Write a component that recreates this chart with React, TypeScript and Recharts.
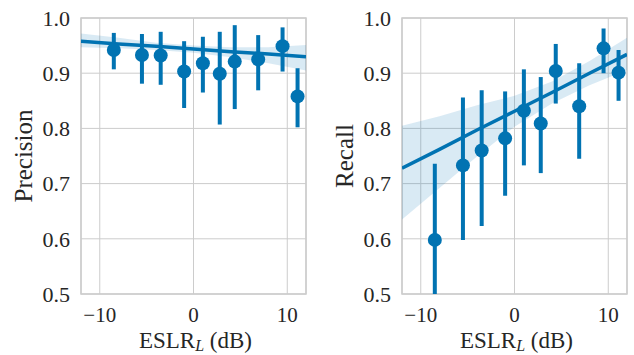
import React from 'react';
import { ComposedChart, XAxis, YAxis, CartesianGrid, Line, Area, Scatter, ErrorBar, ReferenceArea } from 'recharts';

const bins = [-8.5, -5.5, -3.5, -1.0, 1.0, 2.8, 4.4, 6.9, 9.5, 11.1];

const precision = [0.942, 0.933, 0.932, 0.903, 0.918, 0.899, 0.921, 0.925, 0.949, 0.858];
const precisionLo = [0.907, 0.881, 0.879, 0.837, 0.865, 0.807, 0.835, 0.869, 0.903, 0.802];
const precisionHi = [0.973, 0.971, 0.975, 0.958, 0.966, 0.975, 0.987, 0.969, 0.983, 0.909];

const recall = [0.598, 0.733, 0.760, 0.782, 0.832, 0.809, 0.904, 0.840, 0.945, 0.901];
const recallLo = [0.5, 0.598, 0.623, 0.678, 0.733, 0.719, 0.845, 0.745, 0.900, 0.850];
const recallHi = [0.736, 0.856, 0.869, 0.867, 0.907, 0.893, 0.953, 0.918, 0.981, 0.942];

const fitX = [-12, -8, -4, 0, 4, 8, 12];
const precisionFit = [0.958, 0.953, 0.949, 0.944, 0.939, 0.935, 0.930];
const precisionBandLo = [0.947, 0.945, 0.942, 0.937, 0.929, 0.918, 0.905];
const precisionBandHi = [0.972, 0.964, 0.955, 0.950, 0.947, 0.947, 0.951];
const recallFit = [0.728, 0.762, 0.797, 0.831, 0.865, 0.900, 0.934];
const recallBandLo = [0.635, 0.692, 0.749, 0.803, 0.845, 0.878, 0.906];
const recallBandHi = [0.805, 0.822, 0.842, 0.859, 0.885, 0.922, 0.964];

const xTicks = [-10, 0, 10];
const yTicks = [0.5, 0.6, 0.7, 0.8, 0.9, 1.0];

const BLUE = '#0173B2';
const GRID = '#cccccc';
const TEXT = '#262626';
const FONT = "'Liberation Serif', 'DejaVu Serif', serif";
const fontStyle = { fontFamily: FONT };

function makePoints(ys: number[], lo: number[], hi: number[]) {
  return bins.map((x, i) => ({ x, y: ys[i], err: [ys[i] - lo[i], hi[i] - ys[i]] }));
}
function makeBand(fit: number[], lo: number[], hi: number[]) {
  return fitX.map((x, i) => ({ x, fit: fit[i], band: [lo[i], hi[i]] }));
}

const fmtX = (v: number) => (v < 0 ? '\u2212' + Math.abs(v) : String(v));
const fmtY = (v: number) => v.toFixed(1);

const XTick = (p: any) => (
  <text x={p.x} y={p.y} dy="0.71em" textAnchor="middle" fill={TEXT} fontSize={21} style={fontStyle}>
    {fmtX(p.payload.value)}
  </text>
);
const YTick = (p: any) => (
  <text x={p.x} y={p.y} dy="0.355em" textAnchor="end" fill={TEXT} fontSize={22} style={fontStyle}>
    {fmtY(p.payload.value)}
  </text>
);

function Panel(props: {
  yLabel: string;
  points: any[];
  band: any[];
  yAxisWidth: number;
  marginRight: number;
}) {
  const { yLabel, points, band, yAxisWidth, marginRight } = props;
  return (
    <ComposedChart
      width={317}
      height={355}
      margin={{ top: 18, right: marginRight, bottom: 0, left: 0 }}
    >
      <CartesianGrid stroke={GRID} strokeWidth={1} />
      <XAxis
        dataKey="x"
        type="number"
        domain={[-12, 12]}
        ticks={xTicks}
        allowDataOverflow
        tickLine={false}
        axisLine={false}
        tickSize={0}
        tickMargin={13}
        height={61}
        tick={<XTick />}
        label={(p: any) => {
          const vb = p.viewBox;
          return (
            <text
              x={vb.x + vb.width / 2 + 2}
              y={vb.y + 53.5}
              textAnchor="middle"
              fill={TEXT}
              fontSize={23}
              style={fontStyle}
            >
              <tspan>ESLR</tspan>
              <tspan fontStyle="italic" fontSize={16} dy={3}>L</tspan>
              <tspan dy={-3}> (dB)</tspan>
            </text>
          );
        }}
      />
      <YAxis
        type="number"
        domain={[0.5, 1.0]}
        ticks={yTicks}
        allowDataOverflow
        tickLine={false}
        axisLine={false}
        tickSize={0}
        tickMargin={11}
        width={yAxisWidth}
        tick={<YTick />}
        label={(p: any) => {
          const vb = p.viewBox;
          const x = vb.x + vb.width - 49.5;
          const y = vb.y + vb.height / 2;
          return (
            <text
              x={x}
              y={y}
              transform={`rotate(-90 ${x} ${y})`}
              textAnchor="middle"
              fill={TEXT}
              fontSize={25}
              style={fontStyle}
            >
              {yLabel}
            </text>
          );
        }}
      />
      <ReferenceArea x1={-12} x2={12} y1={0.5} y2={1.0} fill="none" stroke={GRID} strokeWidth={1.5} ifOverflow="visible" />
      <Area
        data={band}
        dataKey="band"
        type="linear"
        stroke="none"
        fill={BLUE}
        fillOpacity={0.15}
        isAnimationActive={false}
        activeDot={false}
      />
      <Scatter
        data={points}
        dataKey="y"
        fill={BLUE}
        isAnimationActive={false}
        shape={(s: any) => <circle cx={s.cx} cy={s.cy} r={7} fill={BLUE} />}
      >
        <ErrorBar dataKey="err" direction="y" width={0} stroke={BLUE} strokeWidth={4} />
      </Scatter>
      <Line
        data={band}
        dataKey="fit"
        type="linear"
        stroke={BLUE}
        strokeWidth={3.5}
        dot={false}
        activeDot={false}
        isAnimationActive={false}
      />
    </ComposedChart>
  );
}

export default function App() {
  return (
    <div style={{ position: 'absolute', left: 0, top: 0, width: 634, height: 355, background: '#fff', display: 'flex' }}>
      <Panel
        yLabel="Precision"
        points={makePoints(precision, precisionLo, precisionHi)}
        band={makeBand(precisionFit, precisionBandLo, precisionBandHi)}
        yAxisWidth={81}
        marginRight={11}
      />
      <Panel
        yLabel="Recall"
        points={makePoints(recall, recallLo, recallHi)}
        band={makeBand(recallFit, recallBandLo, recallBandHi)}
        yAxisWidth={85}
        marginRight={7}
      />
    </div>
  );
}
